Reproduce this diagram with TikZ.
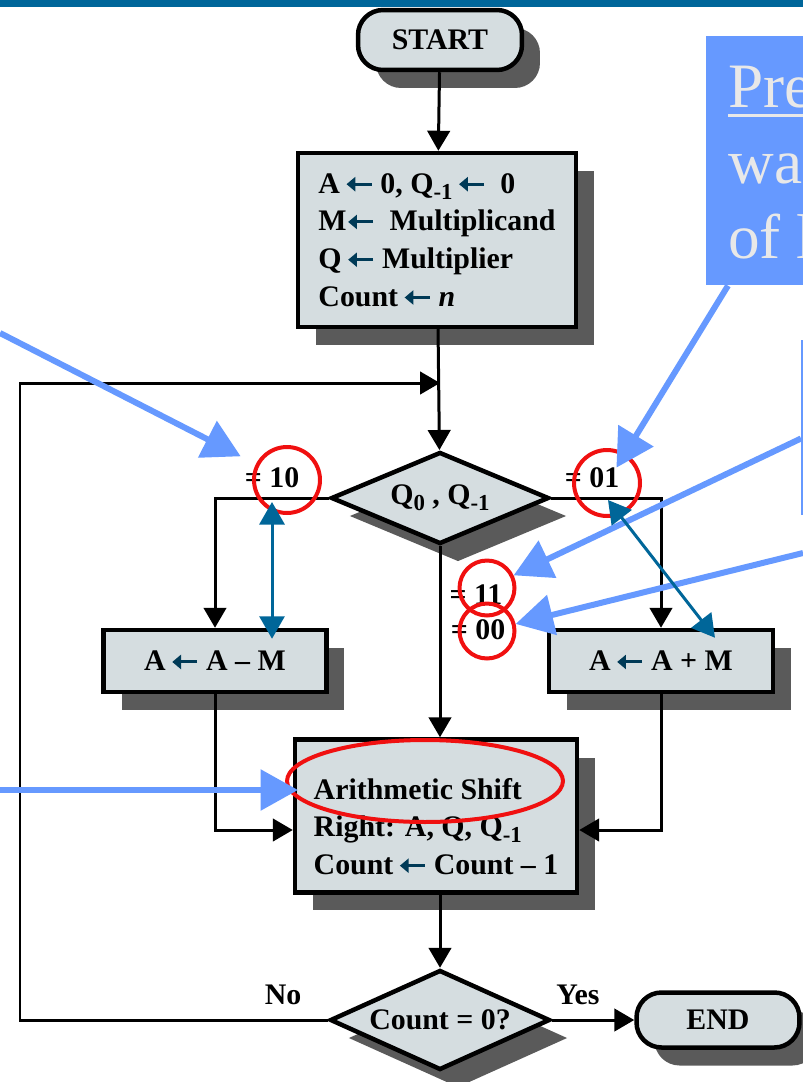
\documentclass[tikz,border=0pt]{standalone}
\usepackage{amsmath}
\usepackage{fontspec}
\setmainfont{Liberation Serif}
\usepackage{tikz}
\usetikzlibrary{positioning}
\usetikzlibrary{shapes.geometric}
\usetikzlibrary{shadows}
\usetikzlibrary{arrows.meta}

\definecolor{relleno}{HTML}{D5DDE0}
\definecolor{sombra}{HTML}{5A5A5A}
\definecolor{barra}{HTML}{00669A}
\definecolor{azulclaro}{HTML}{6699FF}
\definecolor{azuloscuro}{HTML}{006699}
\definecolor{flechita}{HTML}{003A57}
\definecolor{rojo}{HTML}{F01010}
\definecolor{letra}{HTML}{E8E8E8}

\newcommand{\asig}{\tikz[baseline=-0.65ex]\draw[flechita, line width=1.7pt, -{Triangle[length=5pt, width=8pt]}] (0.5cm,0) -- (0,0);}
\newcommand{\subi}[1]{\raisebox{-0.45ex}{\fontsize{13}{13}\selectfont #1}}

\begin{document}
\begin{tikzpicture}[x=0.02cm, y=-0.02cm,
    every node/.style={font=\bfseries\fontsize{17}{21.5}\selectfont},
    caja/.style={draw, line width=0.09cm, fill=relleno,
      drop shadow={shadow xshift=0.36cm, shadow yshift=-0.36cm, fill=sombra, opacity=1}},
    term/.style={caja, rounded corners=0.5cm},
    decision/.style={caja, diamond, aspect=2.4, inner sep=0pt},
    flujo/.style={line width=0.06cm, -{Triangle[length=0.4cm, width=0.45cm]}},
    nota/.style={line width=0.12cm, azulclaro, -{Triangle[length=0.75cm, width=0.8cm]}},
    doble/.style={line width=0.06cm, azuloscuro,
      {Triangle[length=0.45cm, width=0.5cm]}-{Triangle[length=0.45cm, width=0.5cm]}},
    marca/.style={draw=rojo, line width=0.08cm, circle, inner sep=0pt}]
  \useasboundingbox (0,0) rectangle (803,1082);
  \fill[barra] (0,0) rectangle (803,7);

  % Nodos
  \node[term, minimum width=3.28cm, minimum height=1.2cm] (inicio) at (440,40) {START};
  \node[caja, align=left, minimum width=5.56cm, minimum height=3.48cm] (ini) at (437,240)
    {A\,\asig\ 0, Q\subi{-1}\,\asig\ \ 0\\ M\asig\ \ Multiplicand\\ Q\,\asig\ Multiplier\\ Count\,\asig\ \textit{n}};
  \node[decision, minimum width=4.36cm, minimum height=1.84cm] (q) at (440,498) {Q\subi{0} , Q\subi{-1}};
  \node[caja, minimum width=4.46cm, minimum height=1.24cm] (resta) at (215,661) {A\,\asig\ A -- M};
  \node[caja, minimum width=4.48cm, minimum height=1.24cm] (suma) at (661,661) {A\,\asig\ A + M};
  \node[caja, align=left, minimum width=5.64cm, minimum height=3.06cm] (despl) at (436,816)
    {\rule{0pt}{0.84cm}Arithmetic Shift\\ Right: A, Q, Q\subi{-1}\\ Count\,\asig\ Count -- 1};
  \node[decision, minimum width=4.4cm, minimum height=2cm] (cuenta) at (440,1020) {Count = 0?};
  \node[term, minimum width=3.26cm, minimum height=1.1cm] (fin) at (718,1020) {END};

  \node (l10) at (272,478) {= 10};
  \node (l01) at (592,478) {= 01};
  \node (l11) at (476,595) {= 11};
  \node (l00) at (478,630) {= 00};
  \node (no) at (283,995) {No};
  \node (si) at (578,995) {Yes};

  \coordinate (esq) at (20,383);
  \coordinate (lazo) at (440,383);

  % Aristas
  \draw[flujo] (inicio) -- (ini);
  \draw[flujo] (ini) -- (q);
  \draw[flujo] (q.west) -| (resta.north);
  \draw[flujo] (q.east) -| (suma.north);
  \draw[flujo] (q.south) -- (q.south |- despl.north);
  \draw[flujo] (resta.south) |- ([yshift=-0.28cm]despl.west);
  \draw[flujo] (suma.south) |- ([yshift=-0.28cm]despl.east);
  \draw[flujo] (despl.south -| cuenta.north) -- (cuenta.north);
  \draw[flujo] (cuenta.east) -- (fin.west);
  \draw[flujo] (cuenta.west) -| (esq) -- (lazo);

  % Notas
  \node[fill=azulclaro, anchor=north west, inner sep=0pt, minimum width=2cm, minimum height=4.98cm] (caja1) at (706,36) {};
  \node[anchor=base west, inner sep=0pt, text=letra, font=\fontsize{36}{40}\selectfont] (t1) at (728,107) {Pre};
  \node[anchor=base west, inner sep=0pt, text=letra, font=\fontsize{36}{40}\selectfont] (t2) at (728,183) {wa};
  \node[anchor=base west, inner sep=0pt, text=letra, font=\fontsize{36}{40}\selectfont] (t3) at (728,258) {of l};
  \draw[letra, line width=0.06cm] ([yshift=-0.16cm]t1.base west) -- ([yshift=-0.16cm]t1.base east);
  \node[draw=azulclaro, line width=0.06cm, fill=white, anchor=north west, minimum width=1cm, minimum height=3.44cm] (caja2) at (801,340) {};

  \node[marca, minimum size=1.32cm] (c10) at (287,480) {};
  \node[marca, minimum size=1.32cm] (c01) at (607,483) {};
  \node[marca, minimum size=1.1cm] (c11) at (487,588) {};
  \node[marca, minimum size=1.1cm] (c00) at (487,631) {};
  \node[draw=rojo, line width=0.08cm, ellipse, minimum width=5.52cm, minimum height=1.64cm] (elip) at (425,781) {};

  \coordinate (n1) at (0,333);
  \coordinate (n4) at (803,553);
  \coordinate (n5) at (0,790);
  \coordinate (d1) at (272,502);
  \coordinate (d2) at (608,500);

  \draw[nota, shorten >=0.34cm] (n1) -- (c10);
  \draw[nota, shorten >=-0.34cm] ([xshift=0.44cm]caja1.south west) -- (c01);
  \draw[nota] ([yshift=-0.22cm]caja2.west) -- (c11);
  \draw[nota] (n4) -- (c00);
  \draw[nota, shorten >=-0.26cm] (n5) -- (n5 -| elip.west);

  \draw[doble, shorten >=-0.22cm] (d1) -- (d1 |- resta.north);
  \draw[doble] (d2) -- ([shift={(1.08cm,-0.2cm)}]suma.north);
\end{tikzpicture}
\end{document}
